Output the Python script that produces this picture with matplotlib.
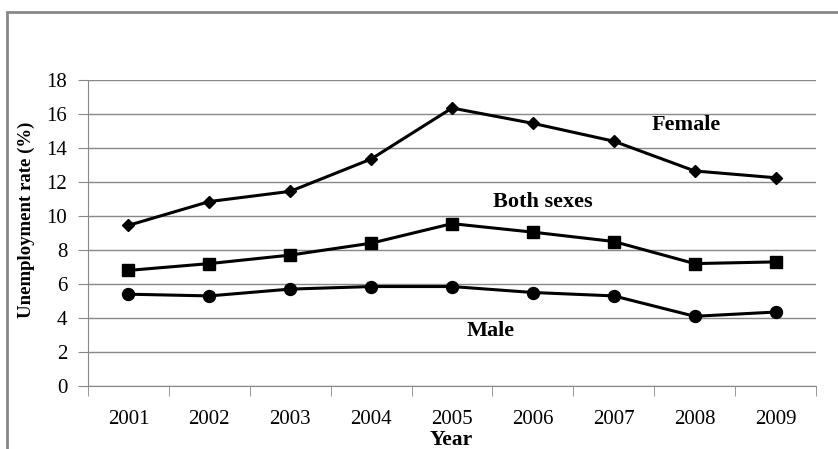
import matplotlib.pyplot as plt
import numpy as np
from matplotlib.patches import Rectangle

plt.rcParams['font.family'] = ['Liberation Serif', 'DejaVu Serif']

years = ['2001', '2002', '2003', '2004', '2005', '2006', '2007', '2008', '2009']
female = [9.45, 10.85, 11.45, 13.35, 16.35, 15.45, 14.4, 12.65, 12.25]
both = [6.8, 7.2, 7.7, 8.4, 9.55, 9.05, 8.5, 7.2, 7.3]
male = [5.4, 5.3, 5.7, 5.85, 5.85, 5.5, 5.3, 4.1, 4.35]

fig = plt.figure(figsize=(8.38, 4.49), dpi=100)
ax = fig.add_axes([88/838, 1-386/449, (816-88)/838, (386-80)/449])

x = np.arange(len(years))
ax.plot(x, female, color='black', lw=2.2, marker='D', ms=6.5)
ax.plot(x, both, color='black', lw=2.2, marker='s', ms=8.6)
ax.plot(x, male, color='black', lw=2.2, marker='o', ms=8.6)

ax.set_xlim(-0.5, 8.5)
ax.set_ylim(0, 18)
ax.set_yticks(range(0, 19, 2))
ax.set_xticks(x)
ax.set_xticklabels(years)
ax.set_xticks(np.arange(-0.5, 9, 1), minor=True)
ax.tick_params(axis='x', which='major', length=0, pad=17, labelsize=15)
ax.tick_params(axis='x', which='minor', length=7, color='#888888', direction='out')
ax.tick_params(axis='y', length=7, color='#888888', labelsize=15, pad=8)
ax.grid(axis='y', color='#888888', lw=1)
ax.set_axisbelow(True)
for s in ['top', 'right']:
    ax.spines[s].set_visible(False)
for s in ['left', 'bottom']:
    ax.spines[s].set_color('#888888')

ax.set_ylabel('Unemployment rate (%)', fontsize=13.5, fontweight='bold')
ax.yaxis.set_label_coords(-0.073, 0.542)
ax.set_xlabel('Year', fontsize=15.5, fontweight='bold')
ax.xaxis.set_label_coords(0.4986, -0.145)

ax.text(6.89, 15.35, 'Female', fontsize=16, fontweight='bold', ha='center', va='center')
ax.text(5.125, 10.82, 'Both sexes', fontsize=16, fontweight='bold', ha='center', va='center')
ax.text(4.48, 3.24, 'Male', fontsize=16, fontweight='bold', ha='center', va='center')

fig.patches.append(Rectangle((7/838, -0.1), 1.2, 1-12/449+0.1, transform=fig.transFigure,
                             fill=False, edgecolor='#888888', lw=2))

fig.savefig('out.png', dpi=100)
